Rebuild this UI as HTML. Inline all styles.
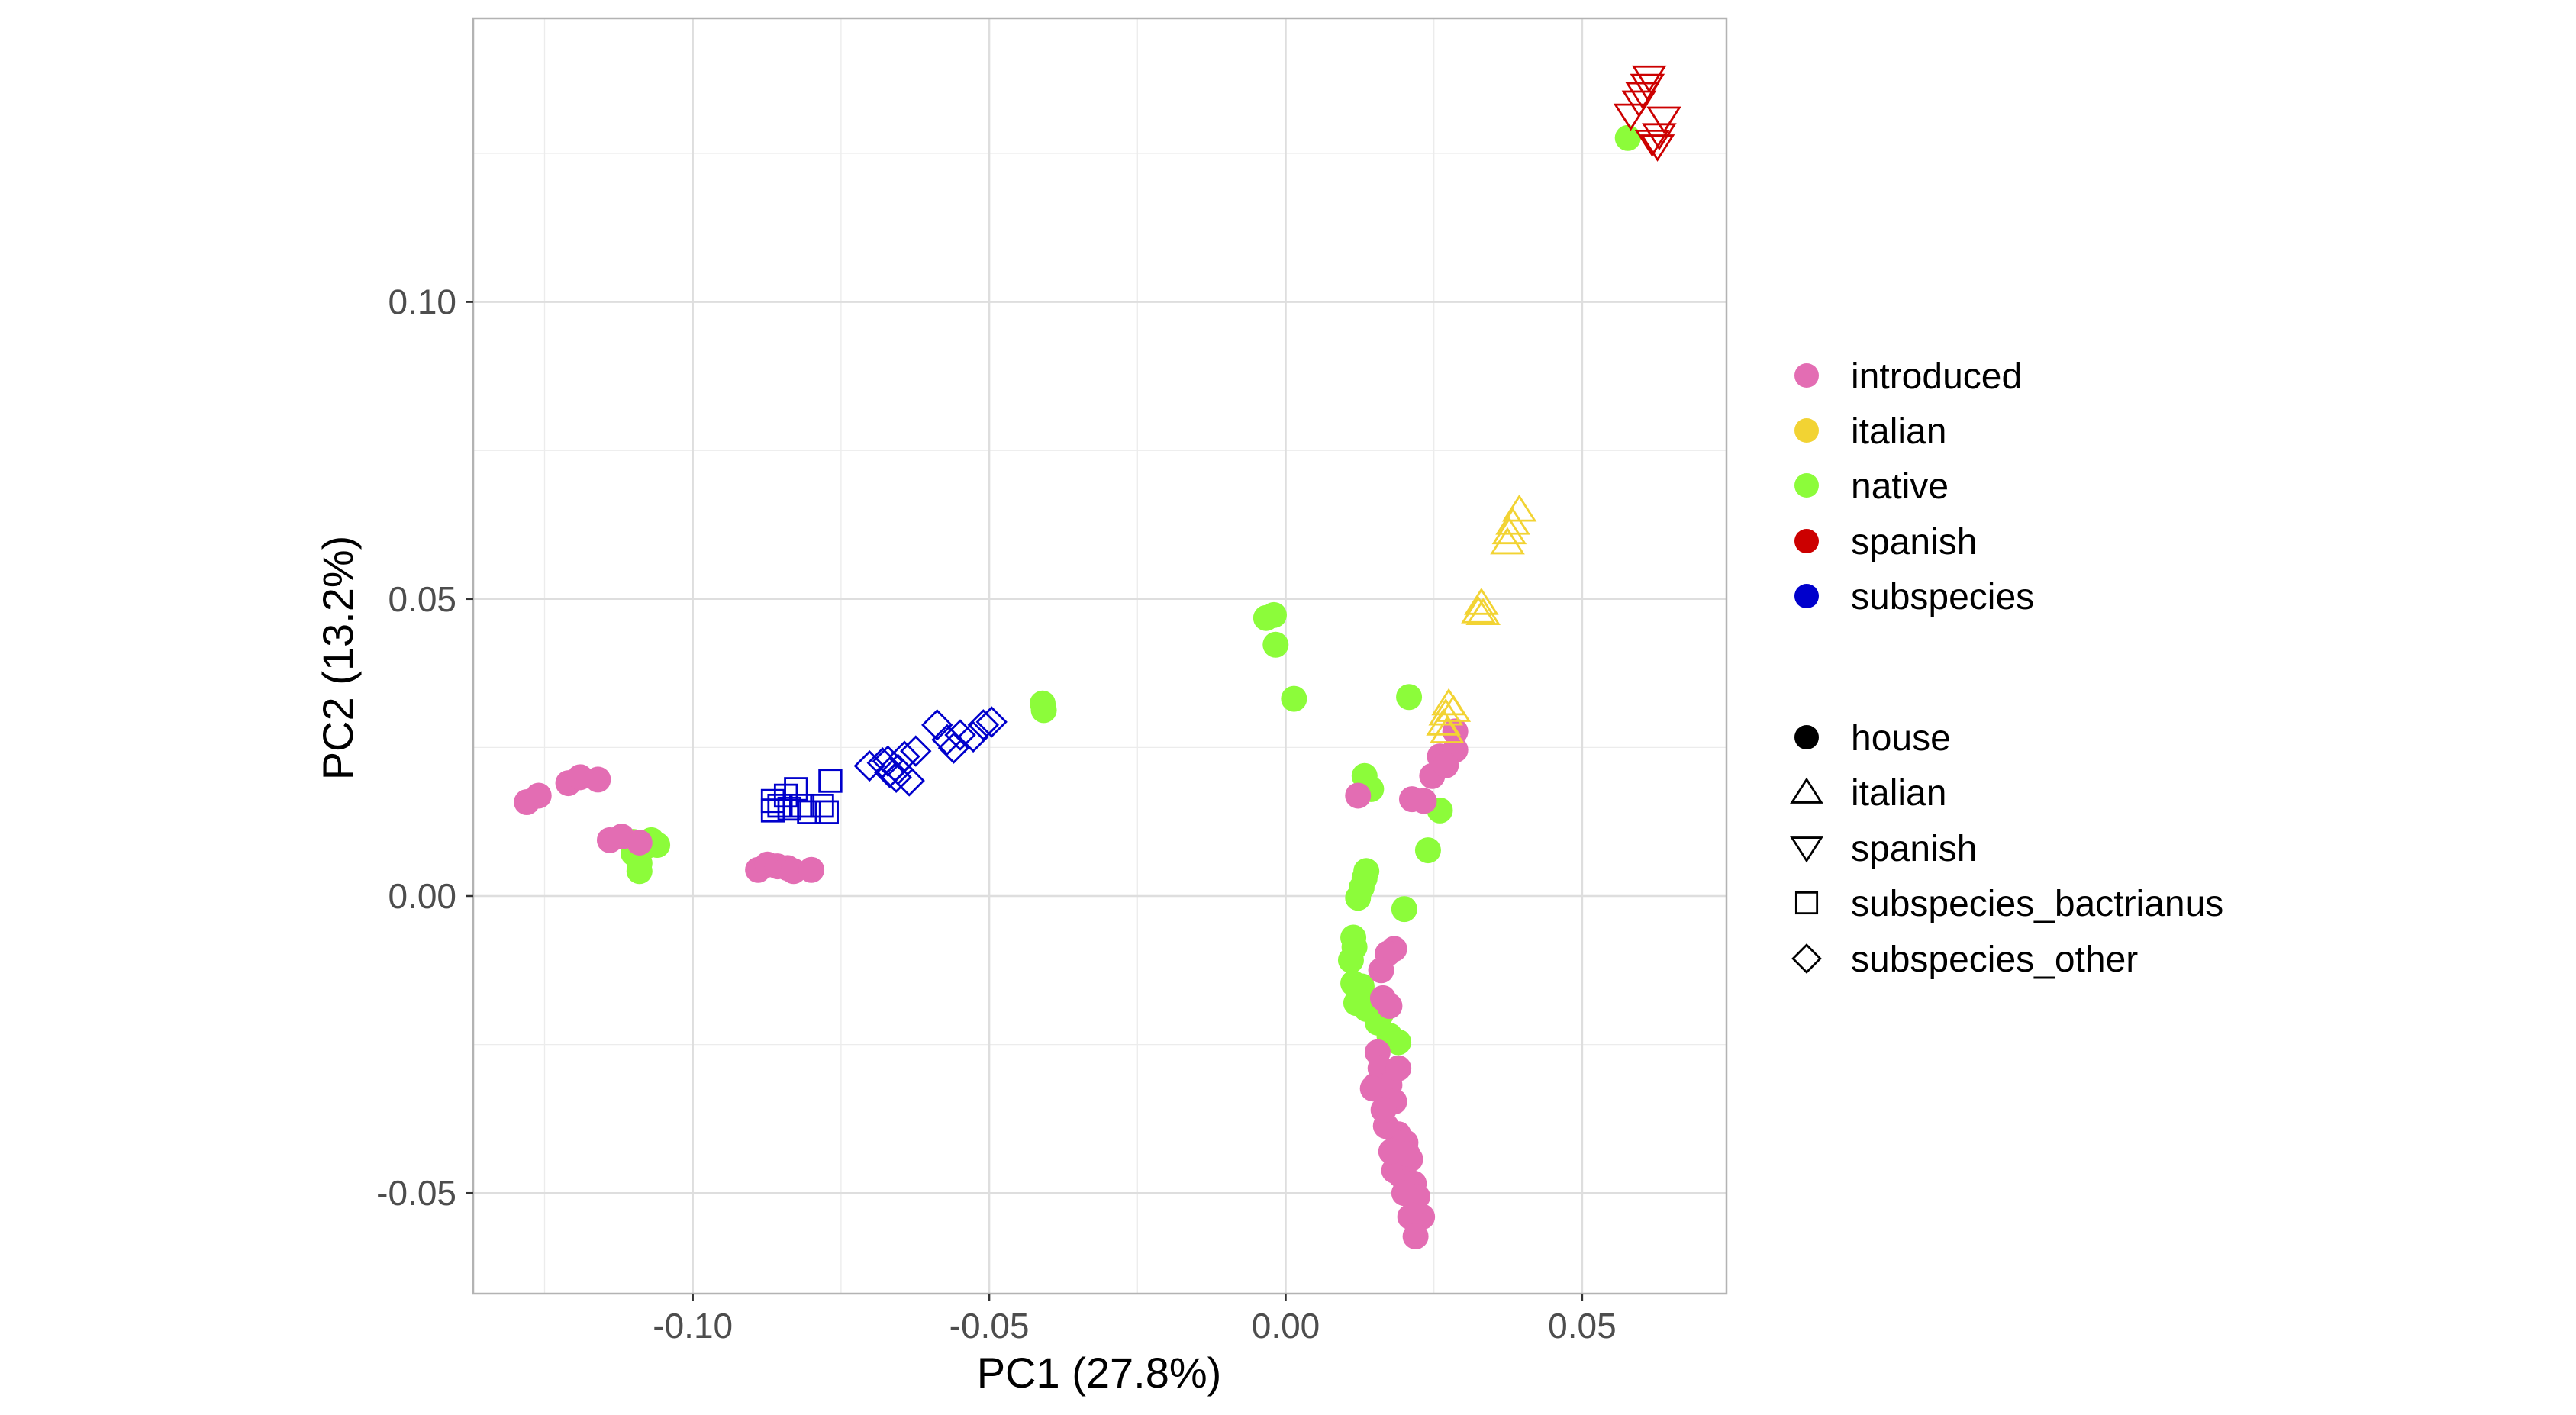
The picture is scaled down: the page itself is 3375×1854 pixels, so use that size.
<!DOCTYPE html>
<html><head><meta charset="utf-8">
<style>
html,body{margin:0;padding:0;background:#fff;}
svg{display:block;font-family:"Liberation Sans",Arial,sans-serif;}
</style></head>
<body>
<svg id="chart" width="3375" height="1854" viewBox="0 0 3375 1854" xmlns="http://www.w3.org/2000/svg">
<rect width="3375" height="1854" fill="#fff"/>
<g id="grid"></g>
<g id="marks"></g>
<rect x="620" y="24" width="1642" height="1671" fill="none" stroke="#b3b3b3" stroke-width="2.5"/>
<g id="axes"></g>
<text x="1440" y="1818" font-size="56" text-anchor="middle" fill="#000">PC1 (27.8%)</text>
<text x="462" y="862" font-size="56" text-anchor="middle" fill="#000" transform="rotate(-90 462 862)">PC2 (13.2%)</text>
<g id="legend"></g>
</svg>
<script>
const groups = ["introduced","italian","native","spanish","subspecies"];
const groupColors = ["#E36DB3","#F2D333","#8CFC3A","#CC0000","#0000CC"];
const shapes = ["house","italian","spanish","subspecies_bactrianus","subspecies_other"];
const xTicks = [-0.10,-0.05,0.00,0.05];
const xTickLabels = ["-0.10","-0.05","0.00","0.05"];
const yTicks = [-0.05,0.00,0.05,0.10];
const yTickLabels = ["-0.05","0.00","0.05","0.10"];
const xMinor = [-0.125,-0.075,-0.025,0.025];
const yMinor = [-0.025,0.025,0.075,0.125];

const introducedHouse = [[-0.128,0.0158],[-0.126,0.0169],[-0.121,0.019],[-0.119,0.020],[-0.116,0.0196],[-0.114,0.0094],[-0.112,0.010],[-0.109,0.009],
 [-0.089,0.0044],[-0.0874,0.0053],[-0.0857,0.005],[-0.084,0.0047],[-0.083,0.0042],[-0.080,0.0044],
 [0.0122,0.0169],[0.0213,0.0163],[0.0233,0.016],[0.0247,0.0202],[0.026,0.0235],[0.0286,0.0277],[0.0286,0.0246],[0.027,0.022],
 [0.0183,-0.0089],[0.0172,-0.0097],[0.0161,-0.0125],[0.0164,-0.0172],[0.0175,-0.0185],[0.0155,-0.0263],[0.016,-0.029],[0.0175,-0.0318],[0.019,-0.029],[0.0152,-0.0318],[0.0183,-0.0346],[0.019,-0.0401],[0.0202,-0.0415],[0.0183,-0.0462],[0.0194,-0.047],[0.021,-0.0443],[0.0216,-0.0484],[0.0222,-0.0506],[0.023,-0.054],[0.021,-0.054],[0.0219,-0.0573],[0.0205,-0.0434],[0.0169,-0.0387],[0.0147,-0.0324],[0.0165,-0.036],[0.0178,-0.043],[0.0200,-0.050]];
const nativeHouse = [[-0.110,0.0091],[-0.108,0.0083],[-0.109,0.0055],[-0.109,0.0042],[-0.107,0.0094],[-0.106,0.0086],[-0.110,0.0072],
 [-0.041,0.0324],[-0.0408,0.0313],[-0.0033,0.0468],[-0.002,0.0473],[-0.0017,0.0423],[0.0014,0.0332],[0.0208,0.0335],[0.0133,0.0202],[0.0144,0.018],[0.026,0.0144],[0.024,0.0077],[0.020,-0.0022],
 [0.0133,0.003],[0.0128,0.0014],[0.0122,-0.0003],[0.0136,0.0042],[0.0114,-0.007],[0.0116,-0.0086],[0.011,-0.0108],[0.0114,-0.0147],[0.0128,-0.0152],[0.0122,-0.0174],[0.0136,-0.019],[0.0155,-0.0213],[0.0175,-0.0235],[0.019,-0.0246],[0.016,-0.02],[0.0119,-0.018],[0.0577,0.1276]];
const italianTri = [[0.0394,0.065],[0.0383,0.0628],[0.0377,0.0612],[0.0374,0.0595],[0.033,0.0493],[0.0325,0.0479],[0.0333,0.0476],[0.0275,0.0324],[0.027,0.0307],[0.0266,0.029],[0.0272,0.0277],[0.0283,0.0313]];
const spanishTri = [[0.0613,0.1378],[0.061,0.1364],[0.0602,0.135],[0.0596,0.1336],[0.0582,0.1314],[0.0638,0.1309],[0.063,0.1281],[0.0627,0.1262],[0.0618,0.127]];
const bactrianusSq = [[-0.0865,0.016],[-0.0854,0.0152],[-0.0843,0.0169],[-0.0826,0.018],[-0.0815,0.0152],[-0.0804,0.0141],[-0.0782,0.0152],[-0.0774,0.0141],[-0.0768,0.0194],[-0.0865,0.0144],[-0.0837,0.0147]];
const otherDiamond = [[-0.0702,0.0219],[-0.068,0.0224],[-0.0668,0.0208],[-0.0654,0.0213],[-0.0643,0.0235],[-0.0635,0.0194],[-0.0657,0.020],[-0.0624,0.0244],[-0.0588,0.0288],[-0.0571,0.0263],[-0.056,0.0249],[-0.0549,0.0271],[-0.0527,0.0268],[-0.051,0.0288],[-0.0496,0.0293],[-0.0671,0.0227]];

const NS="http://www.w3.org/2000/svg";
const PX0=620,PX1=2262,PY0=24,PY1=1695;
function xs(v){return 1684.5+(v/0.05)*388.4;}
function ys(v){return 1174-(v/0.05)*389.2;}
function mk(tag,attrs,parent){const e=document.createElementNS(NS,tag);for(const k in attrs)e.setAttribute(k,attrs[k]);parent.appendChild(e);return e;}
const grid=document.getElementById('grid'),marks=document.getElementById('marks'),axes=document.getElementById('axes'),legend=document.getElementById('legend');

xMinor.forEach(v=>{const l=mk('line',{x1:xs(v),x2:xs(v),y1:PY0,y2:PY1,stroke:'#ececec','stroke-width':1.3},grid);

});
yMinor.forEach(v=>{const l=mk('line',{x1:PX0,x2:PX1,y1:ys(v),y2:ys(v),stroke:'#ececec','stroke-width':1.3},grid);

});
xTicks.forEach((v,i)=>{const l=mk('line',{x1:xs(v),x2:xs(v),y1:PY0,y2:PY1,stroke:'#dedede','stroke-width':2.5},grid);


const tk=mk('line',{x1:xs(v),x2:xs(v),y1:PY1,y2:PY1+10,stroke:'#333','stroke-width':2.5},axes);


const t=mk('text',{x:xs(v),y:1753,'font-size':46,'text-anchor':'middle',fill:'#4d4d4d'},axes);t.textContent=xTickLabels[i];

});
yTicks.forEach((v,i)=>{const l=mk('line',{x1:PX0,x2:PX1,y1:ys(v),y2:ys(v),stroke:'#dedede','stroke-width':2.5},grid);


const tk=mk('line',{x1:PX0-10,x2:PX0,y1:ys(v),y2:ys(v),stroke:'#333','stroke-width':2.5},axes);


const t=mk('text',{x:598,y:ys(v)+16,'font-size':46,'text-anchor':'end',fill:'#4d4d4d'},axes);t.textContent=yTickLabels[i];

});

function shape(kind,cx,cy,color,parent,big){
  let e; const s=big?1.05:1.1;
  if(kind==='house'){e=mk('circle',{cx:cx,cy:cy,r:(big?16:17),fill:color},parent);}
  else if(kind==='italian'){const h=16*s;e=mk('polygon',{points:`${cx},${cy-h} ${cx-h*1.15},${cy+h*0.8} ${cx+h*1.15},${cy+h*0.8}`,fill:'none',stroke:color,'stroke-width':2.8},parent);}
  else if(kind==='spanish'){const h=16*s;e=mk('polygon',{points:`${cx},${cy+h} ${cx-h*1.15},${cy-h*0.8} ${cx+h*1.15},${cy-h*0.8}`,fill:'none',stroke:color,'stroke-width':2.8},parent);}
  else if(kind==='subspecies_bactrianus'){const h=13*s;e=mk('rect',{x:cx-h,y:cy-h,width:2*h,height:2*h,fill:'none',stroke:color,'stroke-width':2.8},parent);}
  else {const h=17*s;e=mk('polygon',{points:`${cx},${cy-h} ${cx+h},${cy} ${cx},${cy+h} ${cx-h},${cy}`,fill:'none',stroke:color,'stroke-width':2.8},parent);}
  return e;
}
function drawSeries(data,kind,color,name){data.forEach(d=>{const e=shape(kind,xs(d[0]),ys(d[1]),color,marks,false);

});}
drawSeries(nativeHouse,'house',groupColors[2],'native-point');
drawSeries(introducedHouse,'house',groupColors[0],'introduced-point');
drawSeries(italianTri,'italian',groupColors[1],'italian-point');
drawSeries(spanishTri,'spanish',groupColors[3],'spanish-point');
drawSeries(bactrianusSq,'subspecies_bactrianus',groupColors[4],'bactrianus-point');
drawSeries(otherDiamond,'subspecies_other',groupColors[4],'subspecies-other-point');

const legRows1=[492,564,636,709,781], legRows2=[966,1038,1111,1183,1256];
groups.forEach((g,i)=>{const c=mk('circle',{cx:2367,cy:legRows1[i],r:16,fill:groupColors[i]},legend);


const t=mk('text',{x:2425,y:legRows1[i]+17,'font-size':48,fill:'#000'},legend);t.textContent=g;

});
shapes.forEach((g,i)=>{const e=shape(g,2367,legRows2[i],'#000',legend,true);


const t=mk('text',{x:2425,y:legRows2[i]+17,'font-size':48,fill:'#000'},legend);t.textContent=g;

});
</script>
</body></html>
